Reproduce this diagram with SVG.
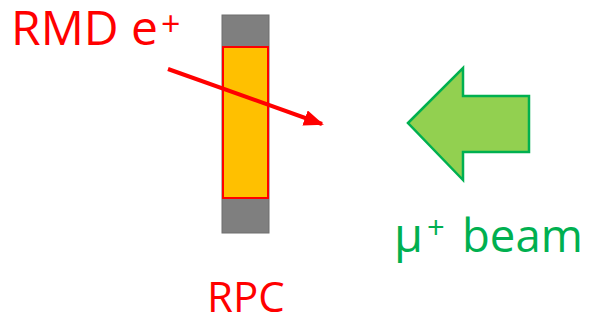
<svg xmlns="http://www.w3.org/2000/svg" width="590" height="320" viewBox="0 0 590 320">
<style>
.red{fill:#FF0000;font-family:"Open Sans","Noto Sans","Liberation Sans",sans-serif}
.green{fill:#00B050;font-family:"Open Sans","Noto Sans","Liberation Sans",sans-serif}
</style>
<defs>
<marker id="ah" markerUnits="userSpaceOnUse" markerWidth="20" markerHeight="16" refX="18" refY="8" orient="auto">
<path d="M0,0 L20,8 L0,16 Z" fill="#FF0000"/>
</marker>
</defs>
<rect width="590" height="320" fill="#FFFFFF"/>
<g id="rpc">
<rect x="222" y="15" width="47" height="218" fill="#7F7F7F" stroke="#6F6F6F" stroke-width="1"/>
<rect x="223" y="47" width="45" height="151" fill="#FFC000" stroke="#FF0000" stroke-width="2"/>
<text class="red" x="207" y="312" font-size="42">RPC</text>
</g>
<g id="beam">
<path d="M408,123 L463,68 L463,96 L529,96 L529,152 L463,152 L463,180 Z" fill="#92D050" stroke="#00B050" stroke-width="2.5" stroke-linejoin="miter"/>
<text class="green" font-size="47"><tspan x="394" y="252">μ</tspan><tspan x="427" y="239" font-size="31">+</tspan><tspan x="462" y="252" font-size="45.5">beam</tspan></text>
</g>
<g id="rmd">
<text class="red" font-size="48"><tspan x="11" y="45">RMD e</tspan><tspan x="161" y="36" font-size="34">+</tspan></text>
</g>
<g id="connectors">
<line x1="168" y1="69" x2="322" y2="124" stroke="#FF0000" stroke-width="4" marker-end="url(#ah)"/>
</g>
</svg>
